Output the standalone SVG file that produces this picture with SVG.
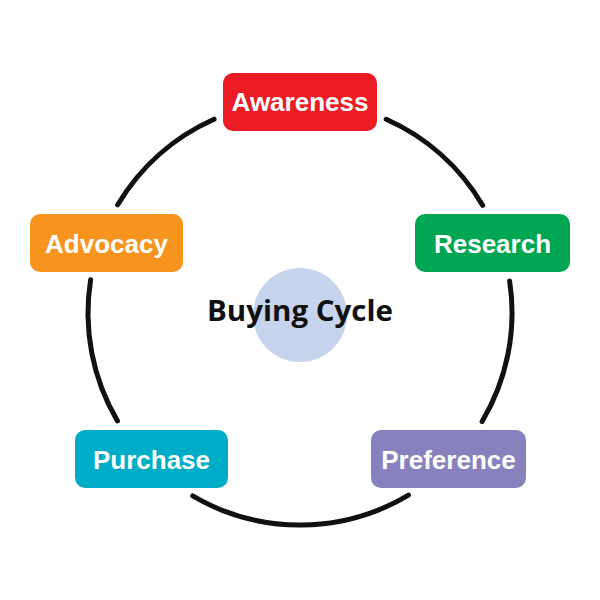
<svg xmlns="http://www.w3.org/2000/svg" width="600" height="600" viewBox="0 0 600 600">
<style>
.arc{fill:none;stroke:#111;stroke-width:5;stroke-linecap:round}
.lbl{font-family:"Liberation Sans",Arial,sans-serif;font-weight:bold;font-size:26px;fill:#fff;text-anchor:middle}
.title{font-family:"Open Sans","Noto Sans",sans-serif;font-weight:bold;font-size:29px;fill:#111;text-anchor:middle}
</style>
<rect width="600" height="600" fill="#fff"/>
<g id="center">
<circle cx="300" cy="315" r="47" fill="#c6d4ed"/>
<text class="title" x="300" y="321" textLength="186" lengthAdjust="spacingAndGlyphs">Buying Cycle</text>
</g>
<g id="connectors">
<path class="arc" d="M386.2,119.3 A212,212 0 0 1 482.7,205.4"/>
<path class="arc" d="M509.6,280.9 A212,212 0 0 1 482.1,421.5"/>
<path class="arc" d="M408.5,495.1 A212,212 0 0 1 192.7,495.9"/>
<path class="arc" d="M117.5,420.9 A212,212 0 0 1 90.6,279.8"/>
<path class="arc" d="M117.7,204.8 A212,212 0 0 1 214.1,119.2"/>
</g>
<g id="awareness">
<rect x="223" y="73" width="154" height="58" rx="10" fill="#ec1c24"/>
<text class="lbl" x="300" y="111">Awareness</text>
</g>
<g id="research">
<rect x="415" y="214" width="155" height="58" rx="10" fill="#00a651"/>
<text class="lbl" x="492.5" y="253">Research</text>
</g>
<g id="preference">
<rect x="371" y="430" width="155" height="58" rx="10" fill="#8781bd"/>
<text class="lbl" x="448.5" y="469">Preference</text>
</g>
<g id="purchase">
<rect x="75" y="430" width="153" height="58" rx="10" fill="#00adc6"/>
<text class="lbl" x="151.5" y="469">Purchase</text>
</g>
<g id="advocacy">
<rect x="30" y="214" width="153" height="58" rx="10" fill="#f7941d"/>
<text class="lbl" x="106.5" y="253">Advocacy</text>
</g>
</svg>
